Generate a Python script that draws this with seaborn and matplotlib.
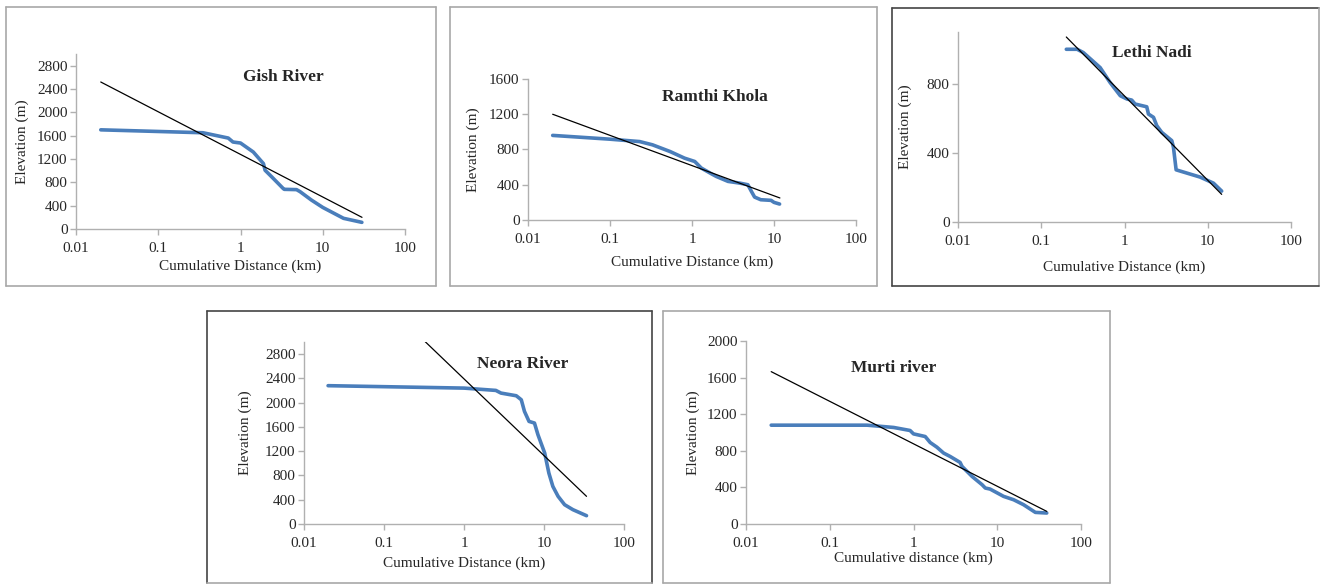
import numpy as np
import pandas as pd
import matplotlib
matplotlib.use("Agg")
import matplotlib.pyplot as plt
import seaborn as sns

# ---------------- data ----------------
gish_x = [0.02, 0.35, 0.71, 0.81, 1.0, 1.43, 1.9, 1.99, 2.4, 3.3, 3.4, 4.8, 5.3, 7.3, 10, 17.9, 29.9]
gish_y = [1700, 1650, 1559, 1491, 1474, 1320, 1121, 1007, 893, 695, 680, 675, 640, 495, 370, 183, 114]
gish_trend_x = [0.02, 30]
gish_trend_y = [2520, 200]

ramthi_x = [0.02, 0.1, 0.23, 0.33, 0.54, 0.81, 1.08, 1.3, 1.72, 1.98, 2.75, 3.8, 4.8, 5.3, 5.8, 6.9, 9.2, 10, 11.7]
ramthi_y = [960, 917, 890, 853, 777, 702, 664, 589, 525, 494, 438, 419, 400, 325, 260, 230, 223, 200, 181]
ramthi_trend_x = [0.02, 11.8]
ramthi_trend_y = [1200, 250]

lethi_x = [0.2, 0.27, 0.32, 0.51, 0.67, 0.89, 1.07, 1.22, 1.34, 1.85, 1.94, 2.23, 2.44, 2.8, 3.7, 3.87, 4.17, 8.1, 11.7, 14.7]
lethi_y = [1000, 1000, 981, 894, 808, 731, 712, 706, 683, 667, 625, 606, 558, 519, 471, 433, 302, 260, 225, 179]
lethi_trend_x = [0.2, 14.7]
lethi_trend_y = [1071, 160]

neora_x = [0.02, 1.0, 2.5, 2.9, 4.5, 5.2, 5.7, 6.5, 7.6, 8.4, 10.2, 11.5, 12.9, 15, 18.1, 23, 34]
neora_y = [2280, 2240, 2202, 2158, 2114, 2048, 1856, 1691, 1664, 1472, 1170, 840, 620, 456, 318, 236, 137]
neora_trend_x = [0.02, 34]
neora_trend_y = [4540, 456]

murti_x = [0.02, 0.28, 0.58, 0.91, 1.0, 1.38, 1.58, 1.9, 2.29, 2.74, 3.6, 3.8, 5.0, 6.6, 7.2, 8.2, 11.9, 15.7, 20.6, 28.5, 39]
murti_y = [1080, 1080, 1055, 1022, 985, 956, 891, 840, 775, 738, 673, 629, 520, 429, 393, 382, 302, 265, 211, 127, 120]
murti_trend_x = [0.02, 39]
murti_trend_y = [1665, 138]

x_ticks = [0.01, 0.1, 1, 10, 100]
x_ticklabels = ["0.01", "0.1", "1", "10", "100"]

# ---------------- style ----------------
sns.set_style("white")
plt.rcParams["font.family"] = ["Liberation Serif", "DejaVu Serif"]

W, H = 1320, 584
fig = plt.figure(figsize=(W / 100, H / 100), dpi=100)

BLUE = "#4A7EBB"
SPINE = "#B0B0B0"
FS = 11


def box(x0, y0, x1, y1, colors):
    # colors: left, top, right, bottom
    lw = 1.2
    segs = [((x0, x0), (y0, y1)), ((x0, x1), (y0, y0)), ((x1, x1), (y0, y1)), ((x0, x1), (y1, y1))]
    for (xs, ys), c in zip(segs, colors):
        fig.add_artist(plt.Line2D([v / W for v in xs], [1 - v / H for v in ys],
                                  color=c, lw=lw, transform=fig.transFigure))


def panel(px, title, title_xy, xs, ys, tx, ty, ymax, ystep, xlabel, xlabel_y, ylabel_x):
    l, r, t, b = px
    ax = fig.add_axes([l / W, 1 - b / H, (r - l) / W, (b - t) / H])
    df = pd.DataFrame({"x": xs, "y": ys})
    sns.lineplot(data=df, x="x", y="y", ax=ax, color=BLUE, lw=2.6, sort=False,
                 solid_capstyle="round", solid_joinstyle="round")
    dft = pd.DataFrame({"x": tx, "y": ty})
    sns.lineplot(data=dft, x="x", y="y", ax=ax, color="black", lw=0.9, sort=False)
    ax.set_xscale("log")
    ax.set_xlim(0.01, 100)
    ax.set_ylim(0, ymax)
    ax.set_xticks(x_ticks)
    ax.set_xticklabels(x_ticklabels)
    ax.minorticks_off()
    ax.set_yticks(np.arange(0, ymax + 1, ystep))
    for s in ["top", "right"]:
        ax.spines[s].set_visible(False)
    for s in ["left", "bottom"]:
        ax.spines[s].set_color(SPINE)
        ax.spines[s].set_linewidth(1.0)
    ax.tick_params(axis="both", which="major", direction="out", length=4, width=1.0,
                   color=SPINE, labelsize=FS, left=True, bottom=True)
    ax.tick_params(axis="x", pad=5.5)
    ax.tick_params(axis="y", pad=2)
    ax.set_ylabel("")
    ax.set_xlabel("")
    fig.text(ylabel_x / W, 1 - ((t + b) / 2) / H, "Elevation (m)", rotation=90,
             ha="center", va="center", fontsize=FS)
    fig.text(((l + r) / 2) / W, 1 - xlabel_y / H, xlabel, ha="center", va="center", fontsize=FS)
    fig.text(title_xy[0] / W, 1 - title_xy[1] / H, title, ha="center", va="center",
             fontsize=12.5, fontweight="bold")
    return ax


DARK = "#444444"
GRAY = "#A8A8A8"

box(6, 7, 436, 286, [GRAY] * 4)
box(450, 7, 877, 286, [GRAY] * 4)
box(892, 8, 1319, 286, [DARK, DARK, GRAY, DARK])
box(207, 311, 652, 583, [DARK, DARK, DARK, GRAY])
box(663, 311, 1110, 583, [GRAY] * 4)

panel((76, 405, 54, 229), "Gish River", (283, 77), gish_x, gish_y, gish_trend_x, gish_trend_y,
      3000, 400, "Cumulative Distance (km)", 266, 22)
panel((528, 856, 79, 220), "Ramthi Khola", (715, 97), ramthi_x, ramthi_y, ramthi_trend_x, ramthi_trend_y,
      1600, 400, "Cumulative Distance (km)", 262, 473)
panel((958, 1291, 32, 222), "Lethi Nadi", (1152, 53), lethi_x, lethi_y, lethi_trend_x, lethi_trend_y,
      1100, 400, "Cumulative Distance (km)", 267, 905)
panel((304, 624, 342, 524), "Neora River", (523, 364), neora_x, neora_y, neora_trend_x, neora_trend_y,
      3000, 400, "Cumulative Distance (km)", 563, 245)
panel((746, 1081, 341, 524), "Murti river", (894, 368), murti_x, murti_y, murti_trend_x, murti_trend_y,
      2000, 400, "Cumulative distance (km)", 558, 693)

fig.savefig("out.png", dpi=100)
